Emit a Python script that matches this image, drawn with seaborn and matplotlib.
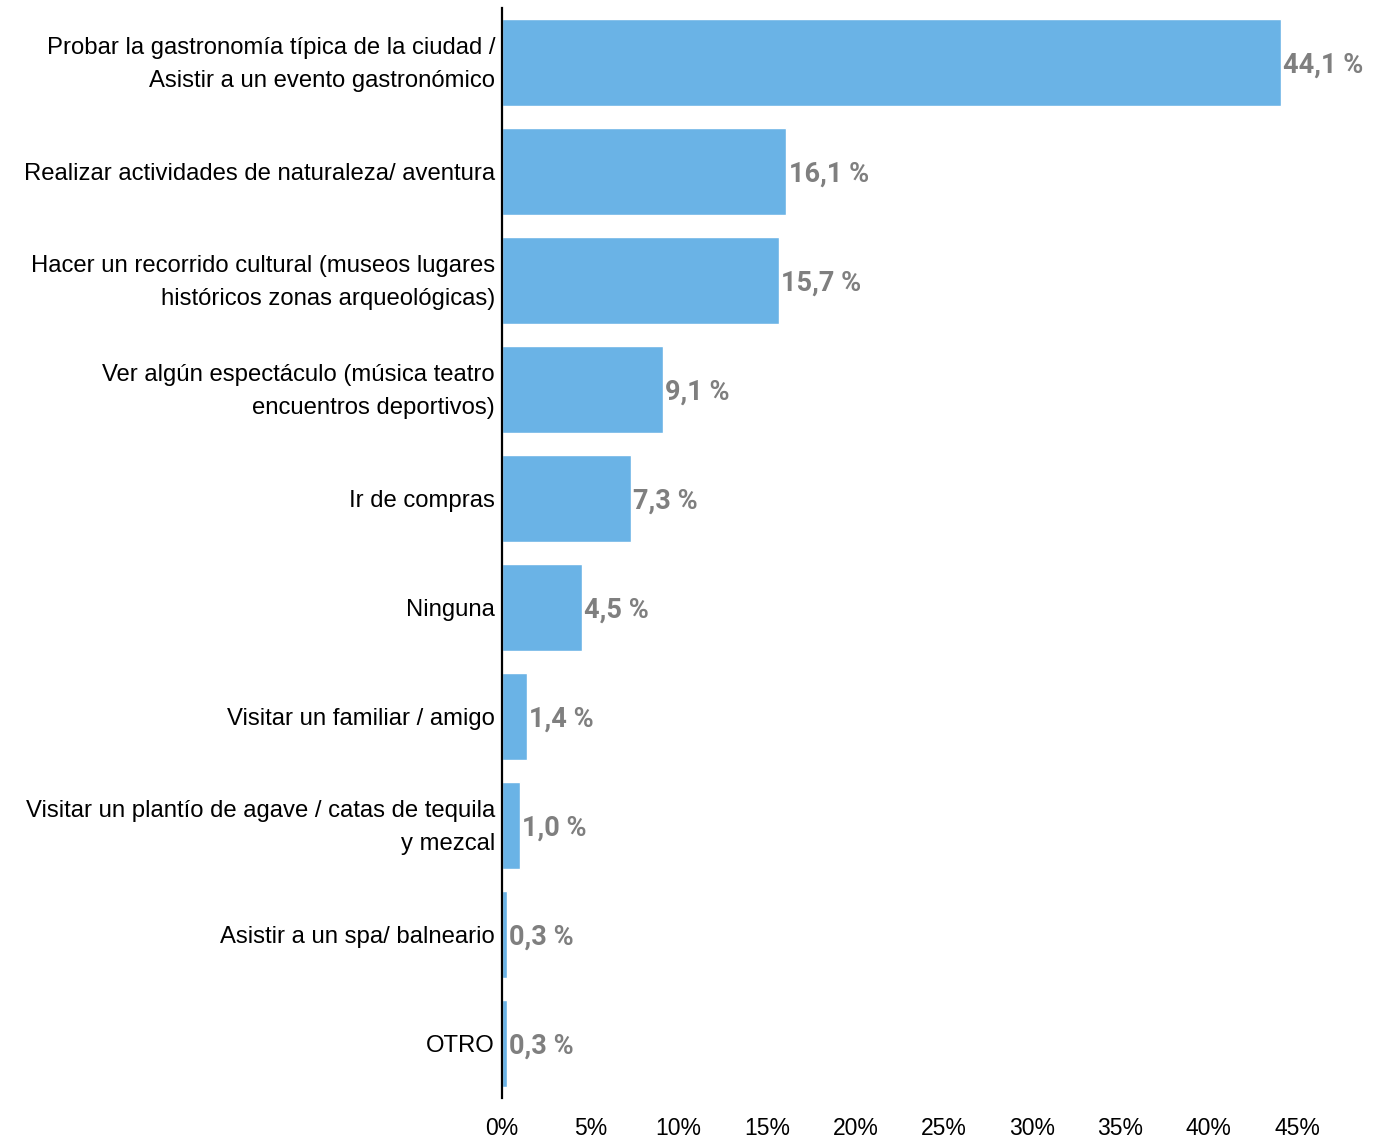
import matplotlib
matplotlib.use("Agg")
import matplotlib.pyplot as plt
import matplotlib.transforms as mtransforms
import pandas as pd
import seaborn as sns
from matplotlib.ticker import FuncFormatter, MultipleLocator

CATEGORIES = [
    "Probar la gastronomía típica de la ciudad /\nAsistir a un evento gastronómico",
    "Realizar actividades de naturaleza/ aventura",
    "Hacer un recorrido cultural (museos lugares\nhistóricos zonas arqueológicas)",
    "Ver algún espectáculo (música teatro\nencuentros deportivos)",
    "Ir de compras",
    "Ninguna",
    "Visitar un familiar / amigo",
    "Visitar un plantío de agave / catas de tequila\ny mezcal",
    "Asistir a un spa/ balneario",
    "OTRO",
]
VALUES = [44.1, 16.1, 15.7, 9.1, 7.3, 4.5, 1.4, 1.0, 0.3, 0.3]

BAR_COLOR = "#6ab3e6"
LABEL_COLOR = "#7f7f7f"

sns.set_theme(style="white")
plt.rcParams["font.family"] = ["Liberation Sans", "DejaVu Sans"]

df = pd.DataFrame({"category": CATEGORIES, "value": VALUES})

fig = plt.figure(figsize=(13.8, 11.39), dpi=100)
ax = fig.add_axes([502 / 1380, 1 - 1098 / 1139, (1297 - 502) / 1380, 1090 / 1139])

sns.barplot(data=df, x="value", y="category", color=BAR_COLOR, saturation=1,
            width=0.8, ax=ax)

for i, v in enumerate(VALUES):
    ax.text(v + 0.12, i + 0.02, f"{v:.1f} %".replace(".", ","), va="center", ha="left",
            fontsize=19.5, fontweight="bold", color=LABEL_COLOR,
            family=["Roboto", "DejaVu Sans"], clip_on=False)

ax.set_xlim(0, 45)
ax.set_ylim(len(VALUES) - 0.5, -0.5)
ax.xaxis.set_major_locator(MultipleLocator(5))
ax.xaxis.set_major_formatter(FuncFormatter(lambda x, _: f"{x:.0f}%"))
ax.set_xlabel("")
ax.set_ylabel("")
ax.tick_params(axis="both", length=0, colors="black")
ax.tick_params(axis="y", pad=5, labelsize=17.2)
ax.tick_params(axis="x", pad=14, labelsize=16.5)

# two-line labels sit a bit low with plain centre alignment, nudge them up
nudge = mtransforms.ScaledTranslation(0, 4 / 72, fig.dpi_scale_trans)
for lbl in ax.get_yticklabels():
    lbl.set_linespacing(1.6)
    if "\n" in lbl.get_text():
        lbl.set_transform(lbl.get_transform() + nudge)
ax.grid(False)

for side in ["top", "right", "bottom"]:
    ax.spines[side].set_visible(False)
ax.spines["left"].set_color("black")
ax.spines["left"].set_linewidth(1.6)

fig.savefig("out.png", dpi=100)
